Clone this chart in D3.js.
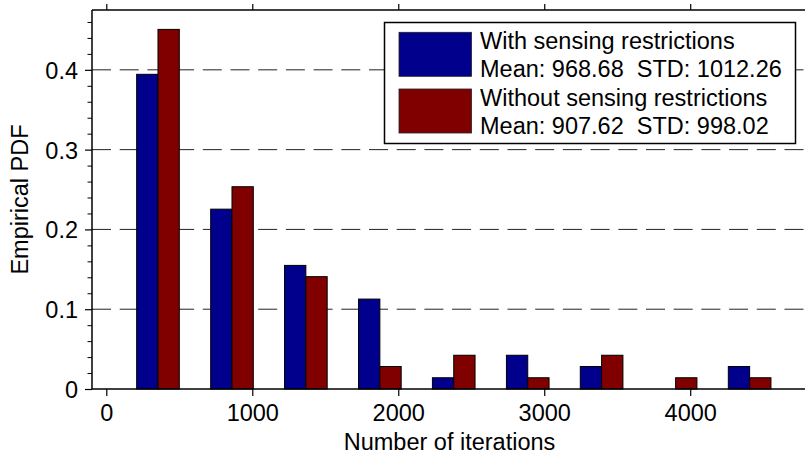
<!DOCTYPE html>
<html>
<head>
<meta charset="utf-8">
<script src="https://cdn.jsdelivr.net/npm/d3@7"></script>
<style>
  html, body { margin: 0; padding: 0; background: #fff; }
  svg { display: block; }
  text { font-family: "Liberation Sans", Arial, Helvetica, sans-serif; fill: #000; }
</style>
</head>
<body>
<svg id="chart" width="805" height="456"></svg>
<script>
// ---- data ----
const binCenters = [354, 861, 1367, 1874, 2380, 2887, 3393, 3900, 4407];
const withRestrictions = [0.3944, 0.2254, 0.1549, 0.1127, 0.0141, 0.0423, 0.0282, 0, 0.0282];
const withoutRestrictions = [0.4507, 0.2535, 0.1408, 0.0282, 0.0423, 0.0141, 0.0423, 0.0141, 0.0141];
const seriesNames = ["With sensing restrictions", "Without sensing restrictions"];
const seriesStats = ["Mean: 968.68  STD: 1012.26", "Mean: 907.62  STD: 998.02"];
const seriesColors = ["#00008c", "#800000"];
const xTickValues = [0, 1000, 2000, 3000, 4000];
const yTickValues = [0, 0.1, 0.2, 0.3, 0.4];
const yMinorTickValues = [0.02, 0.04, 0.06, 0.08, 0.12, 0.14, 0.16, 0.18, 0.22, 0.24, 0.26, 0.28, 0.32, 0.34, 0.36, 0.38, 0.42, 0.44, 0.46];
const xLabel = "Number of iterations";
const yLabel = "Empirical PDF";

// ---- layout ----
const svg = d3.select("#chart");
const L = 92, T = 10, B = 389, R = 807;
const fontSize = 23.5;

const x = d3.scaleLinear().domain([-98, 4800]).range([L, R]);
const y = d3.scaleLinear().domain([0, 0.475]).range([B, T]);

const spacing = binCenters[1] - binCenters[0];
const barW = x(spacing * 0.288) - x(0);

// grid lines (dashed)
svg.append("g").selectAll("line").data(yTickValues.filter(v => v > 0)).join("line")
  .attr("x1", L).attr("x2", R)
  .attr("y1", d => y(d)).attr("y2", d => y(d))
  .attr("stroke", "#222").attr("stroke-width", 1)
  .attr("stroke-dasharray", "19,8.7");

// bars
const series = [withRestrictions, withoutRestrictions];
series.forEach((vals, si) => {
  svg.append("g").selectAll("rect").data(vals.map((v, i) => ({ c: binCenters[i], v })))
    .join("rect")
    .filter(d => d.v > 0)
    .attr("x", d => x(d.c) + (si === 0 ? -barW : 0))
    .attr("width", barW)
    .attr("y", d => y(d.v))
    .attr("height", d => y(0) - y(d.v))
    .attr("fill", seriesColors[si])
    .attr("stroke", "#000")
    .attr("stroke-width", 1);
});

// axes
const xAxis = d3.axisBottom(x).tickValues(xTickValues).tickFormat(d3.format("d")).tickSize(7).tickPadding(6);
const gx = svg.append("g").attr("transform", `translate(0,${B})`).call(xAxis);
gx.select(".domain").remove();
gx.selectAll("text").attr("font-size", fontSize).attr("font-family", null).attr("dy", "0.74em").attr("y", 15);
gx.selectAll("line").attr("stroke-width", 1.2);

const xTop = d3.axisTop(x).tickValues(xTickValues).tickFormat("").tickSize(6);
const gxt = svg.append("g").attr("transform", `translate(0,${T})`).call(xTop);
gxt.select(".domain").remove();
gxt.selectAll("line").attr("stroke-width", 1.2);

const yAxis = d3.axisLeft(y).tickValues(yTickValues).tickFormat(d => d === 0 ? "0" : d3.format(".1f")(d)).tickSize(7).tickPadding(7);
const gy = svg.append("g").attr("transform", `translate(${L},0)`).call(yAxis);
gy.select(".domain").remove();
gy.selectAll("text").attr("font-size", fontSize).attr("font-family", null).attr("dy", "0.36em");
gy.selectAll("line").attr("stroke-width", 1.2);

const yMinor = d3.axisLeft(y).tickValues(yMinorTickValues).tickFormat("").tickSize(4.5);
const gym = svg.append("g").attr("transform", `translate(${L},0)`).call(yMinor);
gym.select(".domain").remove();
gym.selectAll("line").attr("stroke-width", 1);

// frame lines
svg.append("line").attr("x1", L).attr("x2", R).attr("y1", B).attr("y2", B).attr("stroke", "#000").attr("stroke-width", 1.5);
svg.append("line").attr("x1", L).attr("x2", R).attr("y1", T).attr("y2", T).attr("stroke", "#000").attr("stroke-width", 1.5);
svg.append("line").attr("x1", L).attr("x2", L).attr("y1", T).attr("y2", B).attr("stroke", "#000").attr("stroke-width", 1.5);

// axis labels
svg.append("text").attr("x", (L + R) / 2).attr("y", 450).attr("text-anchor", "middle")
  .attr("font-size", fontSize).text(xLabel);
svg.append("text").attr("transform", `translate(28,${(T + B) / 2}) rotate(-90)`).attr("text-anchor", "middle")
  .attr("font-size", fontSize).text(yLabel);

// legend
const lg = svg.append("g");
lg.append("rect").attr("x", 384.5).attr("y", 22.5).attr("width", 411).attr("height", 121)
  .attr("fill", "#fff").attr("stroke", "#000").attr("stroke-width", 1.5);
seriesNames.forEach((name, i) => {
  const top = 32.3 + i * 56.7;
  lg.append("rect").attr("x", 399).attr("y", top).attr("width", 72.5).attr("height", 44)
    .attr("fill", seriesColors[i]).attr("stroke", "#222").attr("stroke-width", 0.8);
  lg.append("text").attr("x", 480).attr("y", 49 + i * 56.7).attr("font-size", fontSize)
    .text(name);
  lg.append("text").attr("x", 480).attr("y", 77.3 + i * 56.7).attr("font-size", fontSize)
    .style("white-space", "pre").text(seriesStats[i]);
});
</script>
</body>
</html>
